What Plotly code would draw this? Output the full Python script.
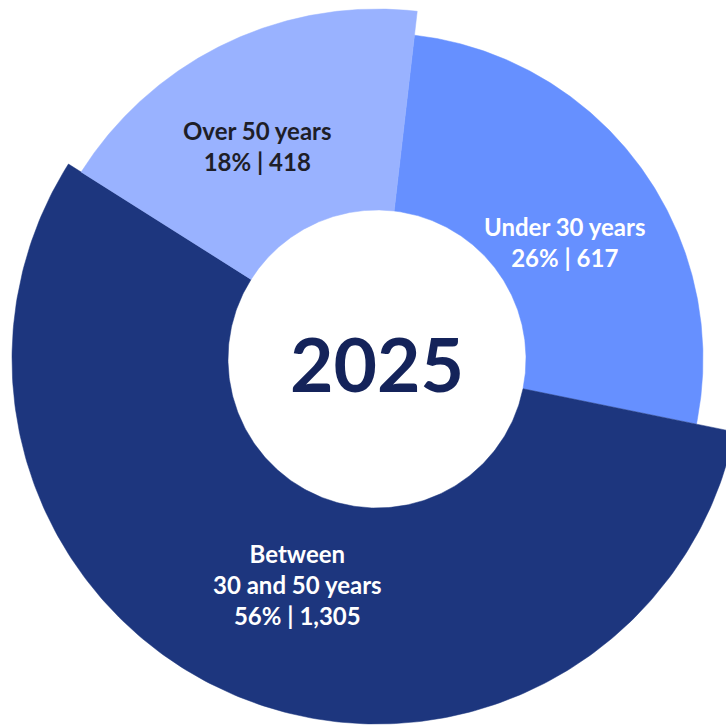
import numpy as np
import plotly.graph_objects as go

# ---- data ----
categories = ["Under 30 years", "Between 30 and 50 years", "Over 50 years"]
label_lines = [["Under 30 years"], ["Between", "30 and 50 years"], ["Over 50 years"]]
values = [617, 1305, 418]
center_label = "2025"

# ---- style ----
colors = ["#6690ff", "#1d367e", "#99b2ff"]
text_colors = ["#ffffff", "#ffffff", "#1e1e28"]
outer_radius = [326, 365, 350]   # slice outer radius (px units)
hole_radius = 149
start_angle = 6.6                # degrees clockwise from 12 o'clock
label_pos = [(188, 117), (-80, -225), (-120, 213)]  # label block centre, offset from chart centre
W, H = 726, 725
cx, cy = 377, 359                # chart centre in px from top-left

total = sum(values)
widths = [v / total * 360 for v in values]

fig = go.Figure()
acc = start_angle
for i, w in enumerate(widths):
    t = np.radians(np.linspace(acc, acc + w, 240))
    ro, ri = outer_radius[i], hole_radius
    xs = np.concatenate([ro * np.sin(t), ri * np.sin(t[::-1]), [ro * np.sin(t[0])]])
    ys = np.concatenate([ro * np.cos(t), ri * np.cos(t[::-1]), [ro * np.cos(t[0])]])
    fig.add_trace(go.Scatter(
        x=xs, y=ys, mode="lines", fill="toself",
        fillcolor=colors[i], line=dict(width=0.5, color=colors[i]),
        hoverinfo="skip", showlegend=False, name=categories[i],
    ))
    acc += w

annotations = []
for i, v in enumerate(values):
    pct = round(v / total * 100)
    lines = label_lines[i] + [f"{pct}% | {v:,}"]
    x0, y0 = label_pos[i]
    annotations.append(dict(
        x=x0, y=y0, xref="x", yref="y",
        text="<br>".join(lines), showarrow=False, xanchor="center", yanchor="middle",
        align="center",
        font=dict(family="Lato", size=24, color=text_colors[i], weight=700),
    ))
annotations.append(dict(
    x=0, y=-4, xref="x", yref="y",
    text=center_label, showarrow=False, xanchor="center", yanchor="middle",
    font=dict(family="Lato", size=75, color="#14235a", weight=700),
))

fig.update_layout(
    width=W, height=H,
    margin=dict(l=0, r=0, t=0, b=0),
    paper_bgcolor="white",
    plot_bgcolor="white",
    showlegend=False,
    xaxis=dict(range=[-cx, W - cx], visible=False, fixedrange=True),
    yaxis=dict(range=[-(H - cy), cy], visible=False, fixedrange=True),
    annotations=annotations,
)

fig.write_html("out.html")
